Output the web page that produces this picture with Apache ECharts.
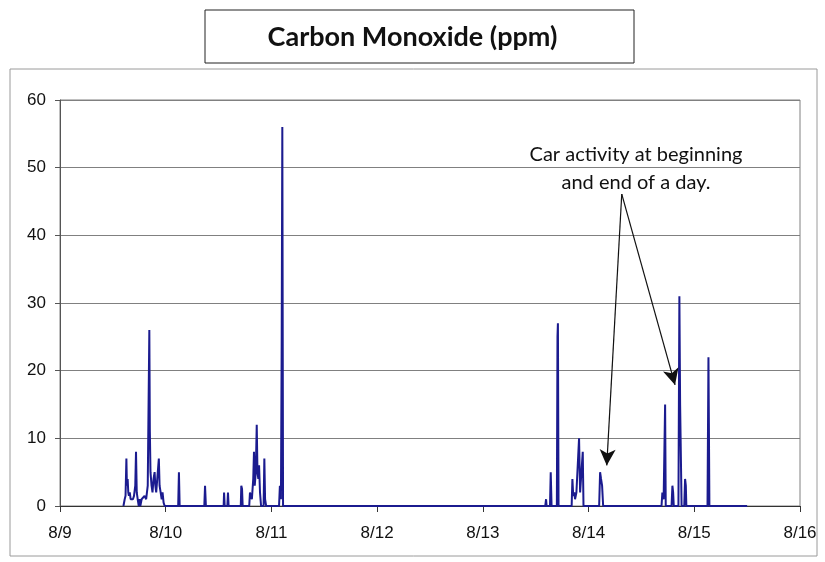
<!DOCTYPE html>
<html>
<head>
<meta charset="utf-8">
<script src="https://cdn.jsdelivr.net/npm/echarts@6/dist/echarts.min.js"></script>
<style>
  html, body { margin: 0; padding: 0; background: #fff; }
  #chart { width: 825px; height: 562px; }
</style>
</head>
<body>
<div id="chart"></div>
<script>
// time is day of August (fractional), value is CO in ppm
const times = [
  9.600, 9.612, 9.620, 9.628, 9.633, 9.640, 9.646, 9.652, 9.660, 9.668,
  9.690, 9.700, 9.712, 9.719, 9.726, 9.735, 9.745, 9.752, 9.760, 9.772,
  9.790, 9.800, 9.815, 9.830, 9.845, 9.850, 9.856, 9.866, 9.875, 9.885,
  9.895, 9.902, 9.910, 9.920, 9.935, 9.942, 9.952, 9.962, 9.970, 9.980,
  9.990, 10.118, 10.125, 10.132, 10.365, 10.372, 10.380, 10.548, 10.552, 10.558,
  10.583, 10.589, 10.595, 10.710, 10.715, 10.722, 10.728, 10.790, 10.797, 10.815,
  10.828, 10.835, 10.842, 10.852, 10.861, 10.868, 10.876, 10.883, 10.892, 10.902,
  10.926, 10.933, 10.940, 10.950, 11.072, 11.080, 11.090, 11.097, 11.103, 11.110,
  13.590, 13.598, 13.603, 13.635, 13.642, 13.650, 13.700, 13.706, 13.710, 13.716,
  13.840, 13.847, 13.855, 13.865, 13.872, 13.885, 13.910, 13.920, 13.945, 13.952,
  14.100, 14.109, 14.118, 14.128, 14.138, 14.690, 14.698, 14.710, 14.724, 14.730,
  14.785, 14.793, 14.800, 14.806, 14.850, 14.859, 14.866, 14.872, 14.880, 14.905,
  14.913, 14.920, 14.925, 15.125, 15.134, 15.143, 15.500
];
const coPpm = [
  0, 1, 1.5, 7, 3, 4, 2, 1.5, 2, 1,
  1, 1.5, 3, 8, 2, 1, 0, 1, 0, 1,
  1, 1.5, 1, 3, 26, 11, 5, 3, 2, 4,
  5, 3, 2, 4, 7, 3, 2, 1, 2, 0.5,
  0, 0, 5, 0, 0, 3, 0, 0, 2, 0,
  0, 2, 0, 0, 3, 2.5, 0, 0, 2, 1,
  4, 8, 3, 5, 12, 5, 4, 6, 2, 0,
  0, 7, 1, 0, 0, 3, 1, 24, 56, 0,
  0, 1, 0, 0, 5, 0, 0, 25, 27, 0,
  0, 4, 1.5, 2, 1, 2, 10, 2, 8, 0,
  0, 5, 4, 3, 0, 0, 2, 1, 15, 0,
  0, 3, 2, 0, 0, 31, 15, 15, 0, 0,
  4, 3, 0, 0, 22, 0, 0
];
const dayLabels = ['8/9', '8/10', '8/11', '8/12', '8/13', '8/14', '8/15', '8/16'];
const yTicks = [0, 10, 20, 30, 40, 50, 60];

// annotation arrows: [start, end] in data coords
const noteFrom = [14.314, 46.1];
const noteTips = [[14.172, 6.0], [14.818, 17.9]];

const chart = echarts.init(document.getElementById('chart'));
const option = {
  animation: false,
  backgroundColor: '#fff',
  textStyle: { fontFamily: 'Liberation Sans, Arial, sans-serif' },
  grid: {
    left: 60, right: 25, top: 100, bottom: 56,
    show: true, borderColor: '#808080', borderWidth: 1
  },
  graphic: [
    {
      type: 'rect', z: 0,
      shape: { x: 10, y: 69, width: 807, height: 487 },
      style: { fill: 'none', stroke: '#9a9a9a', lineWidth: 1 }
    },
    {
      type: 'rect', z: 10,
      shape: { x: 205, y: 10, width: 429, height: 53 },
      style: { fill: '#fff', stroke: '#222', lineWidth: 1 }
    },
    {
      type: 'text', z: 11, left: 'center', top: 24,
      style: {
        text: 'Carbon Monoxide (ppm)',
        font: 'bold 27px Lato, "Open Sans", sans-serif',
        fill: '#111'
      }
    },
    {
      type: 'text', z: 11, x: 636, y: 141,
      style: {
        text: 'Car activity at beginning\nand end of a day.',
        font: '20px Lato, "Open Sans", sans-serif',
        lineHeight: 28,
        align: 'center',
        fill: '#111'
      }
    }
  ],
  xAxis: {
    type: 'value', min: 9, max: 16, interval: 1,
    axisLine: { show: true, onZero: false, lineStyle: { color: '#333', width: 1 } },
    axisTick: { show: true, length: 6, lineStyle: { color: '#333' } },
    axisLabel: {
      color: '#111', fontSize: 17, margin: 19,
      formatter: v => dayLabels[Math.round(v - 9)]
    },
    splitLine: { show: false }
  },
  yAxis: {
    type: 'value', min: yTicks[0], max: yTicks[yTicks.length - 1], interval: 10,
    axisLine: { show: true, lineStyle: { color: '#555', width: 1 } },
    axisTick: { show: true, length: 5, lineStyle: { color: '#555' } },
    axisLabel: { color: '#111', fontSize: 17, margin: 14 },
    splitLine: { show: true, lineStyle: { color: '#808080', width: 1 } }
  },
  series: [
    {
      type: 'line',
      data: times.map((t, i) => [t, coPpm[i]]),
      showSymbol: false,
      lineStyle: { color: '#1b1b8f', width: 2 },
      markLine: {
        silent: true,
        symbol: ['none', 'arrow'],
        symbolSize: [12, 16],
        label: { show: false },
        lineStyle: { color: '#111', width: 1.2, type: 'solid' },
        itemStyle: { color: '#111' },
        data: noteTips.map(tip => [
          { coord: noteFrom },
          { coord: tip }
        ])
      }
    }
  ]
};
chart.setOption(option);
</script>
</body>
</html>
